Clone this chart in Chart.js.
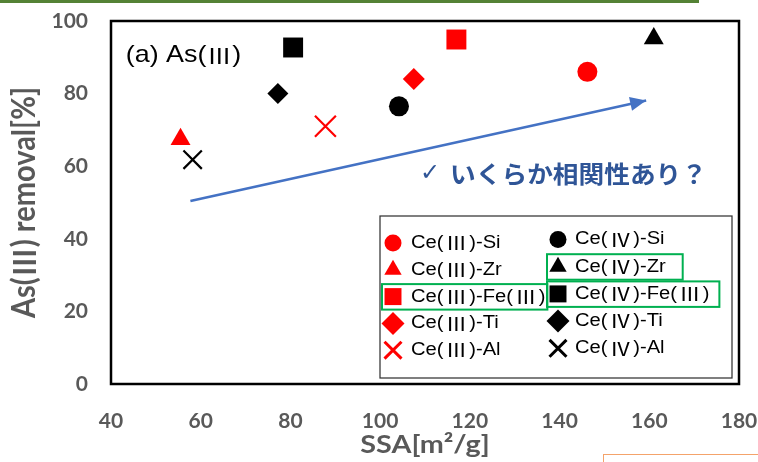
<!DOCTYPE html>
<html>
<head>
<meta charset="utf-8">
<script src="https://cdn.jsdelivr.net/npm/chart.js@4.4.1/dist/chart.umd.min.js"></script>
<style>
  body { margin: 0; background: #fff; }
  #wrap { position: relative; width: 758px; height: 462px; overflow: hidden; }
  #topline { position: absolute; left: 0; top: 0; width: 699px; height: 3px; background: #548235; }
  #orangebox { position: absolute; left: 603px; top: 454px; width: 200px; height: 40px; border: 1.5px solid #F4A36B; }
</style>
</head>
<body>
<div id="wrap">
  <canvas id="chart" width="758" height="462"></canvas>
  <div id="topline"></div>
  <div id="orangebox"></div>
</div>
<script>
// データ
const seriesLabels = ['Ce(Ⅲ)-Si', 'Ce(Ⅲ)-Zr', 'Ce(Ⅲ)-Fe(Ⅲ)', 'Ce(Ⅲ)-Ti', 'Ce(Ⅲ)-Al',
                      'Ce(Ⅳ)-Si', 'Ce(Ⅳ)-Zr', 'Ce(Ⅳ)-Fe(Ⅲ)', 'Ce(Ⅳ)-Ti', 'Ce(Ⅳ)-Al'];
const ssaValues = [146.2, 55.5, 117.0, 107.5, 87.8, 104.2, 161.0, 80.6, 77.2, 58.2];
const removalValues = [86.0, 67.4, 94.9, 84.0, 71.0, 76.5, 95.2, 92.7, 80.0, 61.8];
const seriesColors = ['#ff0000', '#ff0000', '#ff0000', '#ff0000', '#ff0000',
                      '#000000', '#000000', '#000000', '#000000', '#000000'];
const seriesShapes = ['circle', 'triangle', 'rect', 'rectRot', 'crossRot',
                      'circle', 'triangle', 'rect', 'rectRot', 'crossRot'];
const pointSizes = [10, 11.5, 14.1, 11, 14.8, 10, 11.5, 14.1, 10.5, 13];

const xTicks = [40, 60, 80, 100, 120, 140, 160, 180];
const yTicks = [0, 20, 40, 60, 80, 100];

// 矢印（相関の傾向）
const trendSSA = [57.7, 159.3];
const trendRemoval = [50.4, 78.1];

// 凡例の強調枠（列, 行, 右余白）
const highlights = [[0, 2, 2], [1, 1, 17], [1, 2, 10]];

const legendMarkerRadius = { circle: 8.5, triangle: 10, rect: 12, rectRot: 11.5, crossRot: 12 };
const tickFont = { family: 'Lato', weight: 'bold', size: 21 };
const grayText = '#595959';
const CJK = '"Noto Sans CJK JP"';

// ローマ数字だけ CJK フォントで描く（kx: 横方向の伸び）
function drawMixed(ctx, text, x, y, latinFont, cjkFont, cell, kx, draw) {
  ctx.save();
  ctx.translate(x, y);
  ctx.scale(kx, 1);
  let cx = 0;
  text.split(/([ⅢⅣ])/).forEach(part => {
    if (!part) return;
    if (/[ⅢⅣ]/.test(part)) {
      ctx.font = cjkFont;
      const w = ctx.measureText(part).width;
      if (draw) ctx.fillText(part, cx + (cell - w) / 2, 0);
      cx += cell;
    } else {
      ctx.font = latinFont;
      if (draw) ctx.fillText(part, cx, 0);
      cx += ctx.measureText(part).width;
    }
  });
  ctx.restore();
  return cx * kx;
}

const datasets = seriesLabels.map((label, i) => ({
  label: label,
  data: [{ x: ssaValues[i], y: removalValues[i] }],
  pointStyle: seriesShapes[i],
  pointRadius: pointSizes[i],
  backgroundColor: seriesColors[i],
  borderColor: seriesColors[i],
  borderWidth: seriesShapes[i] === 'crossRot' ? 2.2 : 0
}));

datasets.push({
  type: 'line',
  label: 'trend',
  data: trendSSA.map((x, i) => ({ x: x, y: trendRemoval[i] })),
  borderColor: '#4472C4',
  borderWidth: 2.5,
  pointRadius: 0,
  showLine: true,
  fill: false
});

const decorPlugin = {
  id: 'decor',
  beforeDatasetsDraw(chart) {
    const { ctx, chartArea: a } = chart;
    ctx.save();
    ctx.strokeStyle = '#000';
    ctx.lineWidth = 2.5;
    ctx.strokeRect(a.left, a.top, a.right - a.left, a.bottom - a.top);
    ctx.restore();
  },
  afterDatasetsDraw(chart) {
    const { ctx, chartArea: a, scales } = chart;
    const sx = scales.x, sy = scales.y;
    ctx.save();
    ctx.textBaseline = 'middle';
    ctx.textAlign = 'left';

    // 軸タイトル
    ctx.fillStyle = grayText;
    const xTitle = 'SSA[m²/g]';
    const xw = drawMixed(ctx, xTitle, 0, 0, 'bold 25px Lato', 'bold 25px ' + CJK, 25, 1.15, false);
    drawMixed(ctx, xTitle, (a.left + a.right) / 2 - xw / 2, 445, 'bold 25px Lato', 'bold 25px ' + CJK, 25, 1.15, true);

    const yTitle = 'As(Ⅲ) removal[%]';
    const yFont = 'bold 29px Lato';
    const yCjk = 'bold 27px ' + CJK;
    const yw = drawMixed(ctx, yTitle, 0, 0, yFont, yCjk, 30, 1, false);
    ctx.save();
    ctx.translate(25, (a.top + a.bottom) / 2);
    ctx.rotate(-Math.PI / 2);
    ctx.scale(1, 1.12);
    drawMixed(ctx, yTitle, -yw / 2, 0, yFont, yCjk, 30, 1, true);
    ctx.restore();

    // 矢印の先端
    const x0 = sx.getPixelForValue(trendSSA[0]), y0 = sy.getPixelForValue(trendRemoval[0]);
    const x1 = sx.getPixelForValue(trendSSA[1]), y1 = sy.getPixelForValue(trendRemoval[1]);
    const ang = Math.atan2(y1 - y0, x1 - x0);
    ctx.fillStyle = '#4472C4';
    ctx.beginPath();
    ctx.moveTo(x1, y1);
    ctx.lineTo(x1 - 16 * Math.cos(ang) + 7 * Math.sin(ang), y1 - 16 * Math.sin(ang) - 7 * Math.cos(ang));
    ctx.lineTo(x1 - 16 * Math.cos(ang) - 7 * Math.sin(ang), y1 - 16 * Math.sin(ang) + 7 * Math.cos(ang));
    ctx.closePath();
    ctx.fill();

    // パネル名
    ctx.fillStyle = '#000';
    drawMixed(ctx, '(a) As(Ⅲ)', sx.getPixelForValue(43.3), sy.getPixelForValue(90.5),
      '24px "Liberation Sans"', '22px ' + CJK, 23, 1.12, true);

    // コメント
    ctx.fillStyle = '#2F5597';
    ctx.font = '24px "DejaVu Sans"';
    ctx.fillText('✓', sx.getPixelForValue(108.9), sy.getPixelForValue(58.0));
    drawMixed(ctx, 'いくらか相関性あり？', sx.getPixelForValue(115.6), sy.getPixelForValue(58.0),
      'bold 24px ' + CJK, 'bold 24px ' + CJK, 24, 1.07, true);

    // 凡例
    const box = { left: a.right - 359, top: a.bottom - 168, w: 352, h: 162 };
    ctx.strokeStyle = '#333';
    ctx.lineWidth = 1.25;
    ctx.strokeRect(box.left, box.top, box.w, box.h);

    const cols = [
      { mx: box.left + 13, tx: box.left + 31, y0: box.top + 27, dy: 26.8 },
      { mx: box.left + 178, tx: box.left + 195, y0: box.top + 23.5, dy: 27.2 }
    ];
    const textW = [];
    seriesLabels.forEach((label, i) => {
      const c = cols[Math.floor(i / 5)], row = i % 5;
      const y = c.y0 + row * c.dy;
      const shape = seriesShapes[i];
      ctx.fillStyle = seriesColors[i];
      ctx.strokeStyle = seriesColors[i];
      ctx.lineWidth = shape === 'crossRot' ? 3 : 0;
      Chart.helpers.drawPoint(ctx, {
        pointStyle: shape, radius: legendMarkerRadius[shape], rotation: 0,
        borderWidth: shape === 'crossRot' ? 3 : 0
      }, c.mx, y);
      ctx.fillStyle = '#000';
      textW[i] = drawMixed(ctx, label, c.tx, y, '18px "Liberation Sans"', '19px ' + CJK, 23, 1.12, true);
    });

    // 強調枠
    ctx.strokeStyle = '#00B050';
    ctx.lineWidth = 2;
    highlights.forEach(([col, row, padR]) => {
      const c = cols[col];
      const y = c.y0 + row * c.dy;
      const left = c.mx - 11;
      const right = c.tx + textW[col * 5 + row] + padR;
      ctx.strokeRect(left, y - 12.5, right - left, 25.5);
    });

    ctx.restore();
  }
};

new Chart(document.getElementById('chart'), {
  type: 'scatter',
  data: { datasets: datasets },
  options: {
    responsive: false,
    animation: false,
    events: [],
    layout: { padding: { left: 0, top: 21, right: 19, bottom: 0 } },
    plugins: {
      legend: { display: false },
      tooltip: { enabled: false }
    },
    scales: {
      x: {
        type: 'linear',
        min: 40,
        max: 180,
        afterBuildTicks: s => { s.ticks = xTicks.map(v => ({ value: v })); },
        afterFit: s => { s.height = 78; s.paddingLeft = 0; s.paddingRight = 0; },
        grid: { display: false, drawTicks: false },
        border: { display: false },
        ticks: { padding: 25, color: grayText, font: tickFont },
        title: { display: false }
      },
      y: {
        type: 'linear',
        min: 0,
        max: 100,
        afterBuildTicks: s => { s.ticks = yTicks.map(v => ({ value: v })); },
        afterFit: s => { s.width = 111; s.paddingTop = 0; s.paddingBottom = 0; },
        grid: { display: false, drawTicks: false },
        border: { display: false },
        ticks: { padding: 23, color: grayText, font: tickFont },
        title: { display: false }
      }
    }
  },
  plugins: [decorPlugin]
});
</script>
</body>
</html>
